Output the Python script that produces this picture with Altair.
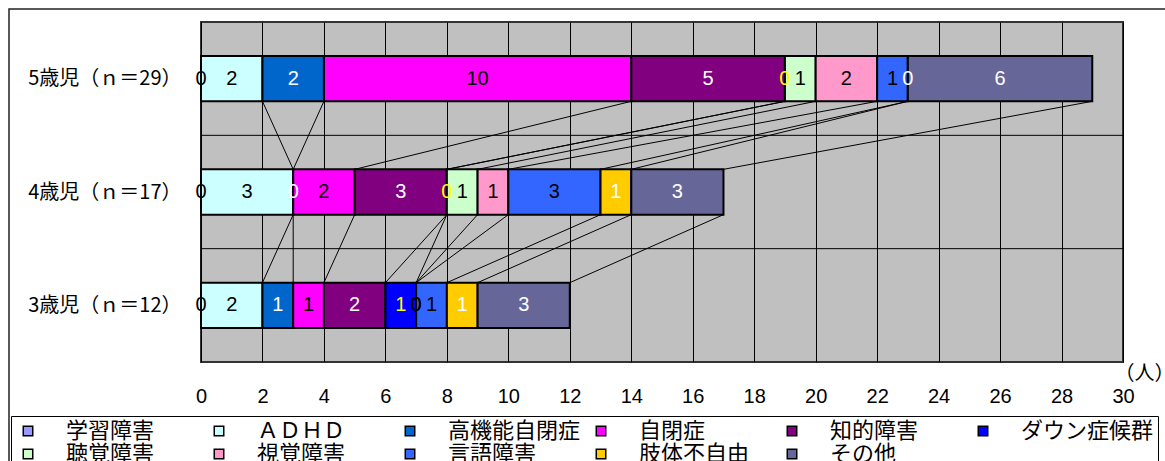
import json
import altair as alt
import pandas as pd

# Age groups (top to bottom) and disability categories in stacking order
rows = ["5歳児（ｎ＝29）", "4歳児（ｎ＝17）", "3歳児（ｎ＝12）"]
series = ["学習障害", "ＡＤＨＤ", "高機能自閉症", "自閉症", "知的障害", "ダウン症候群",
          "聴覚障害", "視覚障害", "言語障害", "肢体不自由", "その他"]

# Number of children per category
counts_5 = [0, 2, 2, 10, 5, 0, 1, 2, 1, 0, 6]
counts_4 = [0, 3, 0, 2, 3, 0, 1, 1, 3, 1, 3]
counts_3 = [0, 2, 1, 1, 2, 1, 0, 0, 1, 1, 3]

x_ticks = list(range(0, 31, 2))

# Styling
fill_colors = ["#9999FF", "#CCFFFF", "#0066CC", "#FF00FF", "#800080", "#0000FF",
               "#CCFFCC", "#FF99CC", "#3366FF", "#FFCC00", "#666699"]
label_colors = ["#000000", "#000000", "#FFFFFF", "#000000", "#FFFFFF", "#FFFF00",
                "#000000", "#000000", "#000000", "#FFFFFF", "#FFFFFF"]

JP = "Noto Sans CJK JP"
NUM = "Liberation Sans"
W, H = 922, 340
HALF = 0.2  # half bar thickness, in row units
XMAX = x_ticks[-1]

counts = [counts_5, counts_4, counts_3]
row_center = {r: len(rows) - i - 0.5 for i, r in enumerate(rows)}

records = []
for r, vals in zip(rows, counts):
    start = 0
    for s, v, tc in zip(series, vals, label_colors):
        records.append(dict(row=r, series=s, value=v, start=start, end=start + v,
                            mid=start + v / 2, yc=row_center[r],
                            ylo=row_center[r] - HALF, yhi=row_center[r] + HALF, tc=tc))
        start += v
seg = pd.DataFrame(records)

# Series lines joining each category's end between neighbouring bars
links = []
for upper, lower in zip(rows[:-1], rows[1:]):
    up = seg[seg.row == upper].reset_index(drop=True)
    lo = seg[seg.row == lower].reset_index(drop=True)
    for i in range(len(series)):
        links.append(dict(x=up.end[i], y=up.ylo[i], x2=lo.end[i], y2=lo.yhi[i]))
links = pd.DataFrame(links)

# Row boundaries for horizontal grid lines
bounds = pd.DataFrame({"b": list(range(1, len(rows))), "x0": 0, "x1": XMAX})

xscale = alt.Scale(domain=[0, XMAX], nice=False)
yscale = alt.Scale(domain=[0, len(rows)], nice=False, zero=False)

label_expr = json.dumps(rows[::-1], ensure_ascii=False) + "[floor(datum.value)]"

x_axis = alt.Axis(values=x_ticks, grid=True, gridColor="#000000", gridWidth=1,
                  ticks=False, domain=False, labelFont=NUM, labelFontSize=20,
                  labelColor="#000000", labelPadding=24, labelFlush=False,
                  labelOverlap=False,
                  title="（人）", titleFont=JP, titleFontSize=20, titleFontWeight="normal",
                  titleColor="#000000", titleX=913, titleY=11, titleAlign="left",
                  titleBaseline="middle")
y_axis = alt.Axis(values=[i + 0.5 for i in range(len(rows))], labelExpr=label_expr,
                  grid=False, ticks=False, domain=False, labelFont=JP,
                  labelFontSize=20, labelColor="#000000", labelPadding=20, title=None)

# Chart-area border
frame = alt.Chart(pd.DataFrame({"k": [0]})).mark_rect(
    fillOpacity=0, stroke="#222222", strokeWidth=1.5
).encode(x=alt.value(-192), x2=alt.value(1300), y=alt.value(-13), y2=alt.value(700))

hgrid = alt.Chart(bounds).mark_rule(color="#000000", strokeWidth=1).encode(
    y=alt.Y("b:Q", scale=yscale, axis=y_axis),
    x=alt.X("x0:Q", scale=xscale, axis=x_axis),
    x2="x1:Q",
)

lines = alt.Chart(links).mark_rule(color="#000000", strokeWidth=1).encode(
    x=alt.X("x:Q", scale=xscale, axis=x_axis),
    x2="x2:Q",
    y=alt.Y("y:Q", scale=yscale, axis=y_axis),
    y2="y2:Q",
)

bars = alt.Chart(seg).mark_bar(stroke="#000000", strokeWidth=2).encode(
    x=alt.X("start:Q", scale=xscale, axis=x_axis),
    x2="end:Q",
    y=alt.Y("ylo:Q", scale=yscale, axis=y_axis),
    y2="yhi:Q",
    color=alt.Color(
        "series:N",
        scale=alt.Scale(domain=series, range=fill_colors),
        sort=series,
        legend=alt.Legend(
            title=None, orient="none", legendX=-190, legendY=394, columns=6,
            direction="horizontal", gridAlign="all", symbolType="square",
            symbolSize=90, symbolStrokeColor="#000000", symbolStrokeWidth=1.5,
            symbolOffset=2, labelFont=JP, labelFontSize=22, labelColor="#000000",
            labelOffset=27, labelLimit=400, columnPadding=7, rowPadding=1,
            padding=4, strokeColor="#000000",
        ),
    ),
)

labels = alt.Chart(seg).mark_text(font=NUM, fontSize=20, baseline="middle").encode(
    x=alt.X("mid:Q", scale=xscale, axis=x_axis),
    y=alt.Y("yc:Q", scale=yscale, axis=y_axis),
    text="value:Q",
    fill=alt.Fill("tc:N", scale=None),
)

chart = alt.layer(hgrid, lines, bars, labels, frame).properties(
    width=W, height=H,
    padding={"left": 201, "top": 22, "right": 1165 - 201 - W, "bottom": 461 - 22 - H},
    autosize=alt.AutoSizeParams(type="none"),
    background="#FFFFFF",
).configure_view(fill="#C0C0C0", stroke="#333333", strokeWidth=2)

chart.save("out.html", embed_options={"renderer": "svg", "actions": False})
